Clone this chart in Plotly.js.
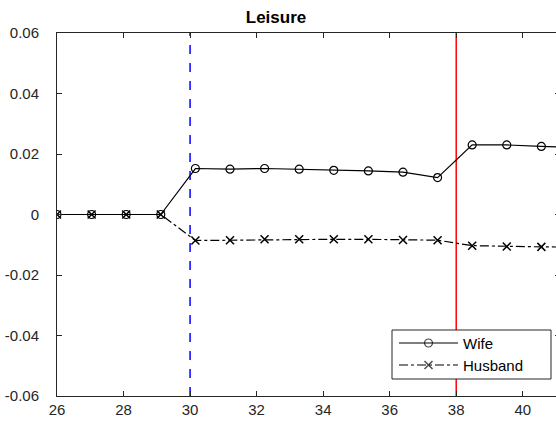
<!DOCTYPE html>
<html>
<head>
<meta charset="utf-8">
<script src="https://cdn.plot.ly/plotly-3.0.1.min.js"></script>
<style>html,body{margin:0;padding:0;overflow:hidden;background:#fff;}</style>
</head>
<body>
<div id="chart"></div>
<script>
const ages = [26, 27.04, 28.08, 29.12, 30.16, 31.2, 32.24, 33.28, 34.32, 35.36, 36.4, 37.44, 38.48, 39.52, 40.56, 41.6];
const wife = [0, 0, 0, 0, 0.0152, 0.0150, 0.0152, 0.0150, 0.0146, 0.0144, 0.0140, 0.0122, 0.0230, 0.0230, 0.0225, 0.0222];
const husband = [0, 0, 0, 0, -0.0086, -0.0085, -0.0082, -0.0082, -0.0082, -0.0082, -0.0084, -0.0085, -0.0103, -0.0106, -0.0107, -0.0108];
const seriesNames = ['Wife', 'Husband'];
const xTicks = [26, 28, 30, 32, 34, 36, 38, 40];
const yTicks = [-0.06, -0.04, -0.02, 0, 0.02, 0.04, 0.06];
const yTickLabels = ['-0.06', '-0.04', '-0.02', '0', '0.02', '0.04', '0.06'];
const blueLineX = 30;
const redLineX = 38;

const axisColor = '#262626';
const font = 'Liberation Sans, Arial, sans-serif';
const wifeStyle = {line: {color: 'black', width: 1.2},
  marker: {symbol: 'circle-open', color: 'black', line: {width: 1.2, color: 'black'}}};
const husbandStyle = {line: {color: 'black', width: 1.2, dash: 'dashdot'},
  marker: {symbol: 'x-thin-open', color: 'black', line: {width: 1.5, color: 'black'}}};

const traces = [
  {x: ages, y: wife, name: seriesNames[0], mode: 'lines+markers', showlegend: false,
   line: wifeStyle.line, marker: Object.assign({size: 8}, wifeStyle.marker)},
  {x: ages, y: husband, name: seriesNames[1], mode: 'lines+markers', showlegend: false,
   line: husbandStyle.line, marker: Object.assign({size: 8}, husbandStyle.marker)}
];

// Legend drawn in a pixel-unit overlay axis (x2/y2)
const leg = {x0: 392, x1: 551, y0: 330, y1: 379, lineX0: 399, lineX1: 458, textX: 461, rows: [343, 365]};
[wifeStyle, husbandStyle].forEach((st, i) => {
  const r = leg.rows[i];
  traces.push({x: [leg.lineX0, (leg.lineX0 + leg.lineX1) / 2, leg.lineX1], y: [r, r, r],
    xaxis: 'x2', yaxis: 'y2', mode: 'lines+markers', showlegend: false, hoverinfo: 'skip',
    line: st.line, marker: Object.assign({size: [0, 8, 0]}, st.marker)});
});

const layout = {
  width: 560, height: 431,
  margin: {l: 57, r: 0, t: 33, b: 35},
  paper_bgcolor: 'white', plot_bgcolor: 'white',
  font: {family: font, size: 15, color: axisColor},
  title: {text: '<b>Leisure</b>', x: 276/560, xref: 'container', xanchor: 'center', y: 1 - 17/431, yref: 'container', yanchor: 'middle',
          font: {size: 17, color: 'black', family: font}},
  showlegend: false,
  xaxis: {range: [26, 41.12], tickvals: xTicks, ticktext: xTicks.map(String), ticks: 'inside', ticklen: 5,
          tickcolor: axisColor, showline: true, linecolor: axisColor, linewidth: 1, mirror: 'ticks',
          showgrid: false, zeroline: false, tickfont: {size: 15, color: axisColor}},
  yaxis: {range: [-0.06, 0.06], tickvals: yTicks, ticktext: yTickLabels, ticks: 'inside', ticklen: 5,
          ticklabelstandoff: 14,
          tickcolor: axisColor, showline: true, linecolor: axisColor, linewidth: 1, mirror: 'ticks',
          showgrid: false, zeroline: false, tickfont: {size: 15, color: axisColor}},
  xaxis2: {overlaying: 'x', anchor: 'y2', range: [57, 560], visible: false, fixedrange: true},
  yaxis2: {overlaying: 'y', anchor: 'x2', range: [396, 33], visible: false, fixedrange: true},
  shapes: [
    {type: 'line', xref: 'x', yref: 'paper', x0: blueLineX, x1: blueLineX, y0: 0, y1: 1,
     line: {color: 'blue', width: 1.5, dash: 'dash'}, layer: 'below'},
    {type: 'line', xref: 'x', yref: 'paper', x0: redLineX, x1: redLineX, y0: 0, y1: 1,
     line: {color: 'red', width: 1.5}, layer: 'below'},
    {type: 'rect', xref: 'x2', yref: 'y2', x0: leg.x0, x1: leg.x1, y0: leg.y0, y1: leg.y1,
     line: {color: axisColor, width: 1}, fillcolor: 'white', layer: 'below'}
  ],
  annotations: seriesNames.map((n, i) => ({
    xref: 'x2', yref: 'y2', x: leg.textX, y: leg.rows[i], text: n, showarrow: false,
    xanchor: 'left', yanchor: 'middle', font: {size: 15, color: 'black', family: font}
  }))
};

Plotly.newPlot('chart', traces, layout, {displayModeBar: false, staticPlot: true});
</script>
</body>
</html>
